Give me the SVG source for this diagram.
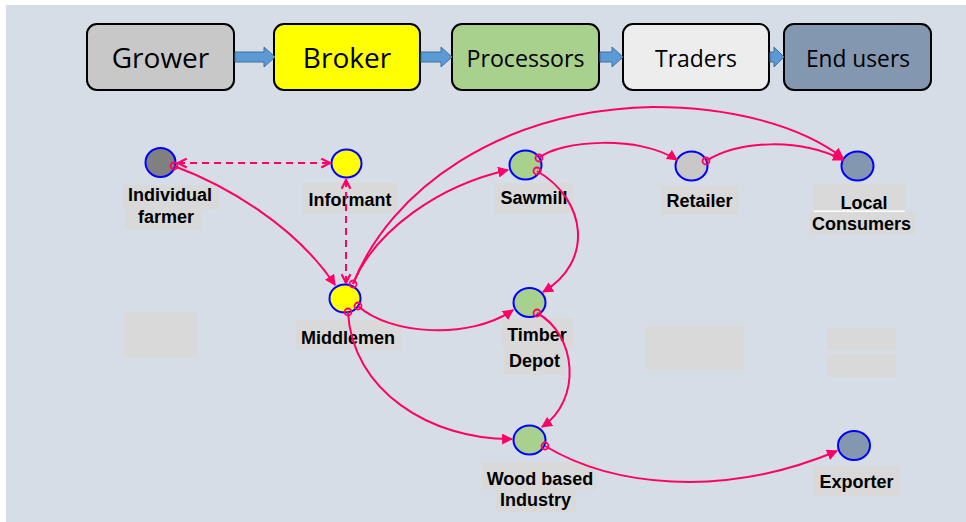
<svg xmlns="http://www.w3.org/2000/svg" width="966" height="522" viewBox="0 0 966 522">
<defs>
<style>
.box{stroke:#000;stroke-width:2}
.ttl{font-family:"Open Sans","Liberation Sans",sans-serif;fill:#000;text-anchor:middle}
.bar{fill:#5b9bd5;stroke:#41719c;stroke-width:1}
.nd{stroke:#0000ff;stroke-width:2}
.lb{fill:#d9d9d9}
.lt{font-family:"Liberation Sans",Arial,sans-serif;font-weight:bold;font-size:18px;fill:#000;text-anchor:middle}
.c{fill:none;stroke:#ff0066;stroke-width:2}
.d{stroke-dasharray:7 5}
.o{fill:none;stroke:#ff0066;stroke-width:1.8}
</style>
<marker id="ah" viewBox="0 0 10 10" refX="9" refY="5" markerWidth="11" markerHeight="11" markerUnits="userSpaceOnUse" orient="auto">
<path d="M0,0 L10,5 L0,10 z" fill="#ff0066"/>
</marker>
<marker id="oa" viewBox="0 0 10 10" refX="9" refY="5" markerWidth="11" markerHeight="11" markerUnits="userSpaceOnUse" orient="auto-start-reverse">
<path d="M1,1 L9,5 L1,9" fill="none" stroke="#ff0066" stroke-width="2"/>
</marker>
</defs>
<rect x="6" y="5" width="960" height="517" fill="#d6dde6"/>

<g id="chain">
<g id="grower"><rect class="box" x="87" y="24" width="147" height="66" rx="10" fill="#c8c8c8"/><text class="ttl" x="160.5" y="68" font-size="28">Grower</text></g>
<g id="broker"><rect class="box" x="274" y="24" width="146" height="66" rx="10" fill="#ffff00"/><text class="ttl" x="347" y="68" font-size="28">Broker</text></g>
<g id="processors"><rect class="box" x="452" y="24" width="147" height="66" rx="10" fill="#a9d18e"/><text class="ttl" x="525.5" y="67" font-size="23" textLength="118" lengthAdjust="spacingAndGlyphs">Processors</text></g>
<g id="traders"><rect class="box" x="623" y="24" width="146" height="66" rx="10" fill="#ededed"/><text class="ttl" x="696" y="67" font-size="23" textLength="82" lengthAdjust="spacingAndGlyphs">Traders</text></g>
<g id="endusers"><rect class="box" x="784" y="24" width="147" height="66" rx="10" fill="#8497b0"/><text class="ttl" x="858" y="67" font-size="23" textLength="104" lengthAdjust="spacingAndGlyphs">End users</text></g>
<g id="chain-arrows">
<path class="bar" d="M235,52 H264 V47 L275,57 L264,67 V62 H235 z"/>
<path class="bar" d="M421,52 H441 V47 L452,57 L441,67 V62 H421 z"/>
<path class="bar" d="M600,52 H612 V47 L623,57 L612,67 V62 H600 z"/>
<path class="bar" d="M770,52 H774 V47 L784,57 L774,67 V62 H770 z"/>
</g>
</g>

<g id="blank-labels">
<rect class="lb" x="124" y="312" width="73" height="45"/>
<rect class="lb" x="646" y="326" width="98" height="44"/>
<rect class="lb" x="827" y="328" width="69" height="22"/>
<rect class="lb" x="827" y="355" width="69" height="22"/>
</g>

<g id="farmer"><ellipse class="nd" cx="160.5" cy="162.5" rx="15" ry="14.5" fill="#808080"/><rect class="lb" x="123" y="185" width="96" height="24"/><rect class="lb" x="125" y="209" width="76" height="20"/><text class="lt" x="170" y="201">Individual</text><text class="lt" x="166" y="223">farmer</text></g>
<g id="informant"><ellipse class="nd" cx="346.5" cy="163.5" rx="15" ry="14" fill="#ffff00"/><rect class="lb" x="303" y="183" width="94" height="30"/><text class="lt" x="350" y="206">Informant</text></g>
<g id="middlemen"><ellipse class="nd" cx="345" cy="298.5" rx="15.5" ry="14" fill="#ffff00"/><rect class="lb" x="296" y="320" width="105" height="30"/><text class="lt" x="348" y="344">Middlemen</text></g>
<g id="sawmill"><ellipse class="nd" cx="525.5" cy="165" rx="16" ry="14.5" fill="#a9d18e"/><rect class="lb" x="495" y="183" width="78" height="30"/><text class="lt" x="534" y="204">Sawmill</text></g>
<g id="retailer"><ellipse class="nd" cx="691.5" cy="166" rx="16" ry="14.5" fill="#c8c8c8"/><rect class="lb" x="661" y="186" width="77" height="29"/><text class="lt" x="699.5" y="207">Retailer</text></g>
<g id="consumers"><ellipse class="nd" cx="857.5" cy="166" rx="16" ry="14.5" fill="#8497b0"/><rect class="lb" x="814" y="184" width="91" height="27"/><rect x="814" y="210.5" width="91" height="1.5" fill="#fff"/><rect class="lb" x="809" y="212" width="106" height="23"/><text class="lt" x="864" y="209">Local</text><text class="lt" x="861.5" y="230">Consumers</text></g>
<g id="timber"><ellipse class="nd" cx="529.5" cy="302.5" rx="16" ry="14.5" fill="#a9d18e"/><rect class="lb" x="502" y="318" width="71" height="30"/><rect class="lb" x="504" y="348" width="61" height="27"/><text class="lt" x="537" y="341">Timber</text><text class="lt" x="534.5" y="367">Depot</text></g>
<g id="wood"><ellipse class="nd" cx="529.5" cy="440" rx="16" ry="14.5" fill="#a9d18e"/><rect class="lb" x="482" y="462" width="114" height="28"/><rect class="lb" x="496" y="490" width="80" height="22"/><text class="lt" x="540" y="485">Wood based</text><text class="lt" x="535.5" y="506">Industry</text></g>
<g id="exporter"><ellipse class="nd" cx="854" cy="445.5" rx="16" ry="14.5" fill="#8497b0"/><rect class="lb" x="813" y="466" width="87" height="30"/><text class="lt" x="856.5" y="488">Exporter</text></g>

<g id="connectors">
<path class="c d" d="M178,163 H330" marker-start="url(#oa)" marker-end="url(#oa)"/>
<path class="c d" d="M346,180 V283" marker-start="url(#oa)" marker-end="url(#oa)"/>
<path class="c" d="M174,166 C225,185 295,225 335,285" marker-end="url(#ah)"/>
<path class="c" d="M353,284 C375,230 440,185 508,170" marker-end="url(#ah)"/>
<path class="c" d="M353,284 C390,190 500,110 653,107 C730,107 800,125 843,158" marker-end="url(#ah)"/>
<path class="c" d="M539,158 C560,140 640,135 677,160" marker-end="url(#ah)"/>
<path class="c" d="M706,161 C740,140 800,138 843,160" marker-end="url(#ah)"/>
<path class="c" d="M537,171 C587,200 594,262 543,292" marker-end="url(#ah)"/>
<path class="c" d="M358,306 C390,335 470,340 513,310" marker-end="url(#ah)"/>
<path class="c" d="M348,312 C352,390 430,440 512,439" marker-end="url(#ah)"/>
<path class="c" d="M537,313 C577,335 582,400 542,427" marker-end="url(#ah)"/>
<path class="c" d="M545,446 C610,485 720,500 837,451" marker-end="url(#ah)"/>
</g>

<g id="source-marks">
<circle class="o" cx="174" cy="166" r="3.5"/>
<circle class="o" cx="353" cy="284" r="3.5"/>
<circle class="o" cx="358" cy="306" r="3.5"/>
<circle class="o" cx="348" cy="312" r="3.5"/>
<circle class="o" cx="539" cy="158" r="3.5"/>
<circle class="o" cx="537" cy="171" r="3.5"/>
<circle class="o" cx="706" cy="161" r="3.5"/>
<circle class="o" cx="537" cy="313" r="3.5"/>
<circle class="o" cx="545" cy="446" r="3.5"/>
</g>
</svg>
